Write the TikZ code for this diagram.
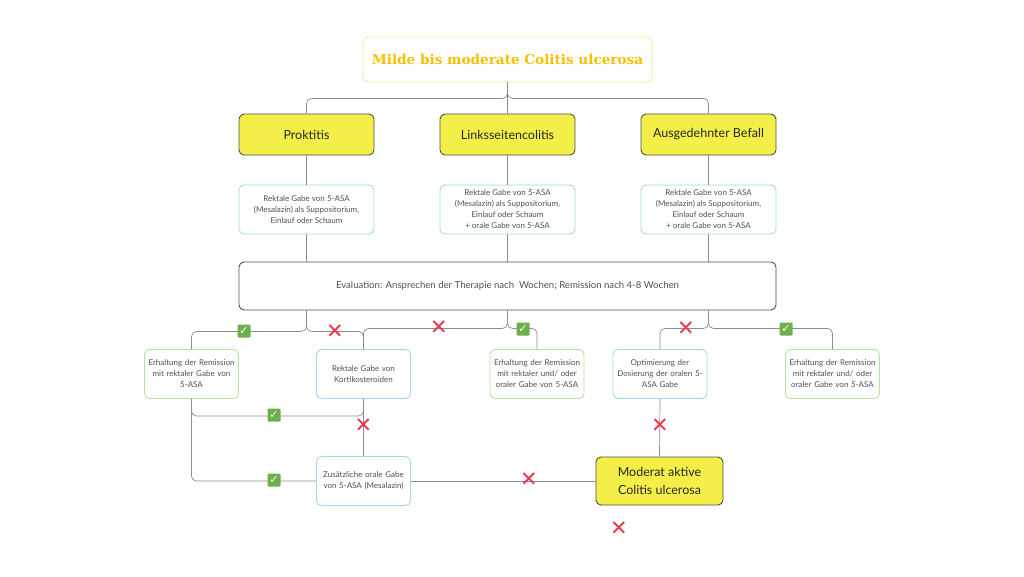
\documentclass[tikz,border=0pt]{standalone}
\usepackage{fontspec}
\setmainfont{Lato}
\newfontfamily\titlefont{DejaVu Serif}
\newfontfamily\symfont{DejaVu Sans}
\usepackage{tikz}
\usetikzlibrary{positioning,calc}
\definecolor{BoxYellow}{RGB}{243,239,72}
\definecolor{TitleGold}{RGB}{246,192,0}
\definecolor{TitleLine}{RGB}{252,226,140}
\definecolor{BlueLine}{RGB}{158,219,234}
\definecolor{GreenLine}{RGB}{178,232,158}
\definecolor{LinkGray}{RGB}{140,140,140}
\definecolor{TextGray}{RGB}{80,80,80}
\definecolor{CheckGreen}{RGB}{108,176,78}
\definecolor{CrossRed}{RGB}{230,56,80}

\begin{document}
\begin{tikzpicture}[x=1pt,y=-1pt,
  box/.style={rounded corners=5pt,align=center,text=TextGray,inner sep=1pt},
  titlebox/.style={box,draw=TitleLine,line width=0.9pt,minimum width=289pt,minimum height=45pt,
    text=TitleGold,font=\titlefont\bfseries\fontsize{13.6}{16}\selectfont},
  yellowbox/.style={box,draw=black!70,line width=0.9pt,fill=BoxYellow,minimum width=135pt,minimum height=41pt,
    text=black!85,font=\fontsize{12.5}{18}\selectfont},
  bluebox/.style={box,draw=BlueLine,line width=0.9pt,minimum width=135pt,minimum height=49pt,
    font=\fontsize{8}{11}\selectfont},
  smallblue/.style={bluebox,minimum width=94pt,text width=92pt},
  smallgreen/.style={smallblue,draw=GreenLine},
  evalbox/.style={box,draw=black!70,line width=0.9pt,minimum width=537pt,minimum height=48pt,
    font=\fontsize{9.6}{11}\selectfont},
  link/.style={draw=LinkGray,line width=0.7pt,rounded corners=5pt},
  okmark/.style={fill=CheckGreen,text=white,minimum size=13pt,inner sep=0pt,rounded corners=1pt,
    font=\symfont\bfseries\fontsize{11}{11}\selectfont},
  nomark/.style={text=CrossRed,inner sep=0pt,font=\symfont\fontsize{21}{21}\selectfont}]
  \useasboundingbox (0,0) rectangle (1024,576);

  \node[titlebox] (title) at (507.5,59.5) {Milde bis moderate Colitis ulcerosa};

  \node[yellowbox] (prokt) at (306.5,134.5) {Proktitis};
  \node[yellowbox] (links) at (507.5,134.5) {Linksseitencolitis};
  \node[yellowbox] (ausg) at (708.5,134.5) {Ausgedehnter Befall};

  \node[bluebox] (rekone) at (306.5,209.5) {Rektale Gabe von 5-ASA\\(Mesalazin) als Suppositorium,\\Einlauf oder Schaum};
  \node[bluebox] (rektwo) at (507.5,209.5) {Rektale Gabe von 5-ASA\\(Mesalazin) als Suppositorium,\\Einlauf oder Schaum\\+ orale Gabe von 5-ASA};
  \node[bluebox] (rekthree) at (708.5,209.5) {Rektale Gabe von 5-ASA\\(Mesalazin) als Suppositorium,\\Einlauf oder Schaum\\+ orale Gabe von 5-ASA};

  \node[evalbox] (eval) at (507.5,286) {Evaluation: Ansprechen der Therapie nach\ \ Wochen; Remission nach 4-8 Wochen};

  \node[smallgreen] (erhone) at (191.5,374) {Erhaltung der Remission\\mit rektaler Gabe von\\5-ASA};
  \node[smallblue] (kort) at (363.5,374) {Rektale Gabe von\\Kortikosteroiden};
  \node[smallgreen] (erhtwo) at (537,374) {Erhaltung der Remission\\mit rektaler und/ oder\\oraler Gabe von 5-ASA};
  \node[smallblue] (opt) at (660,374) {Optimierung der\\Dosierung der oralen 5-\\ASA Gabe};
  \node[smallgreen] (erhthree) at (832.5,374) {Erhaltung der Remission\\mit rektaler und/ oder\\oraler Gabe von 5-ASA};

  \node[smallblue] (zus) at (363.5,481) {Zus\"atzliche orale Gabe\\von 5-ASA (Mesalazin)};
  \node[yellowbox,minimum width=127pt,minimum height=48pt] (mod) at (659.5,481) {Moderat aktive\\Colitis ulcerosa};

  \coordinate (Jone) at (363.5,416);

  \draw[link] (title.south) -- (links.north);
  \draw[link] (title.south) -- ++(0,16) -| (prokt.north);
  \draw[link] (title.south) -- ++(0,16) -| (ausg.north);
  \draw[link] (prokt.south) -- (rekone.north);
  \draw[link] (links.south) -- (rektwo.north);
  \draw[link] (ausg.south) -- (rekthree.north);
  \draw[link] (rekone.south) -- (rekone.south |- eval.north);
  \draw[link] (rektwo.south) -- (rektwo.south |- eval.north);
  \draw[link] (rekthree.south) -- (rekthree.south |- eval.north);

  \draw[link] (eval.south -| prokt) -- ++(0,21) -| (erhone.north);
  \draw[link] (eval.south -| prokt) -- ++(0,21) -| (kort.north);
  \draw[link] (eval.south -| links) -- ++(0,18) -| (kort.north);
  \draw[link] (eval.south -| links) -- ++(0,18) -| (erhtwo.north);
  \draw[link] (eval.south -| ausg) -- ++(0,18) -| (opt.north);
  \draw[link] (eval.south -| ausg) -- ++(0,18) -| (erhthree.north);

  \draw[link] (erhone.south) |- (Jone) -- (kort.south);
  \draw[link] (erhone.south) |- (zus.west);
  \draw[link] (kort.south) -- (zus.north);
  \draw[link] (zus.east) -- (mod.west);
  \draw[link] (opt.south) -- (mod.north);

  \node[okmark] (okone) at (244,331) {✓};
  \node[nomark] (noone) at (335,332) {✕};
  \node[nomark] (notwo) at (439,328) {✕};
  \node[okmark] (oktwo) at (523,329) {✓};
  \node[nomark] (nothree) at (686,329) {✕};
  \node[okmark] (okthree) at (786,329) {✓};
  \node[okmark] (okfour) at (274,415) {✓};
  \node[nomark] (nofour) at (363.5,426) {✕};
  \node[okmark] (okfive) at (274,480) {✓};
  \node[nomark] (nofive) at (529,480) {✕};
  \node[nomark] (nosix) at (660,426) {✕};
  \node[nomark] (noseven) at (619,529) {✕};
\end{tikzpicture}
\end{document}
